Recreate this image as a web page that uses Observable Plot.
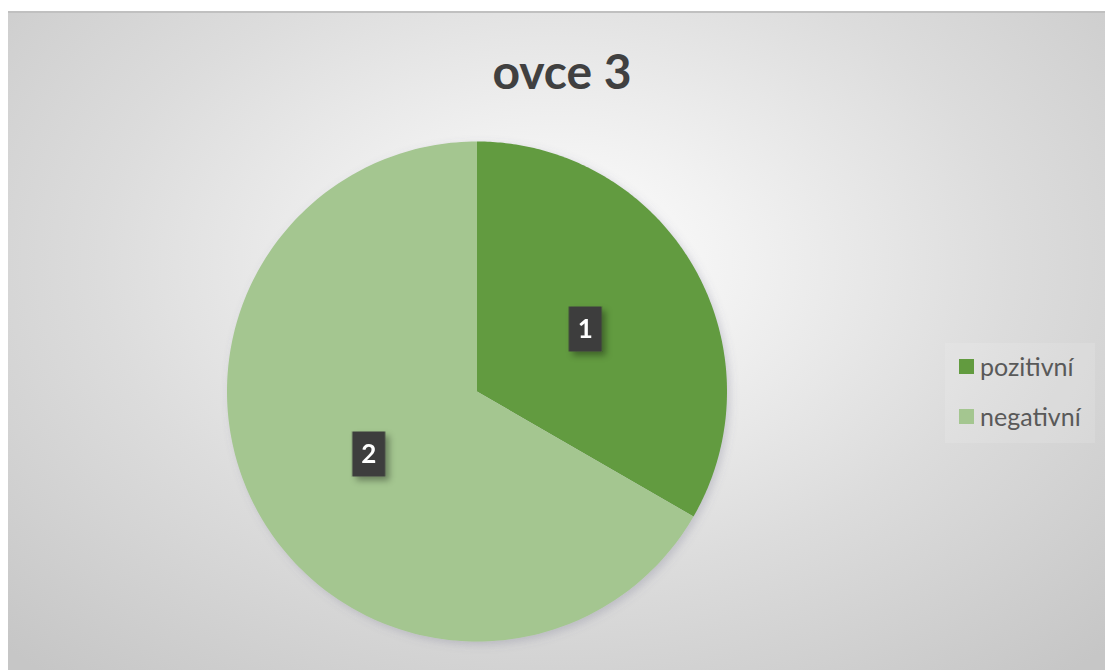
<!DOCTYPE html>
<html>
<head>
<meta charset="utf-8">
<script src="https://cdn.jsdelivr.net/npm/d3@7"></script>
<script src="https://cdn.jsdelivr.net/npm/@observablehq/plot@0.6"></script>
<style>
  html, body { margin: 0; padding: 0; background: #ffffff; width: 1105px; height: 670px; overflow: hidden; }
  #area {
    position: absolute; left: 8px; top: 11px; width: 1097px; height: 659px;
    background: radial-gradient(ellipse 72% 82% at 50% 38%, #ffffff 0%, #f2f2f2 22%, #dcdcdc 58%, #c6c6c6 100%);
    border-top: 2px solid #c0c0c0;
    box-sizing: border-box;
  }
  #chart { position: absolute; left: 0; top: -2px; }
  #legend {
    position: absolute; left: 937px; top: 330px; width: 150px; height: 100px;
    background: rgba(255,255,255,0.12);
    font-family: Lato, "Open Sans", sans-serif; font-size: 25px; color: #595959;
  }
  .item { position: absolute; left: 14px; display: flex; align-items: center; white-space: nowrap; }
  .sw { width: 15px; height: 15px; margin-right: 6px; }
</style>
</head>
<body>
<div id="area"><div id="chart"></div><div id="legend"></div></div>
<script>
const categories = ["pozitivní", "negativní"];
const values = [1, 2];
const colors = ["#629b3f", "#a4c690"];
const title = "ovce 3";

const W = 1097, H = 659;
const cx = 468.5, cy = 380, R = 250;

const arcs = d3.pie().sort(null).value(d => d)(values);
const slicePts = [];
arcs.forEach((a, i) => {
  slicePts.push({name: categories[i], x: 0, y: 0});
  const n = 200;
  for (let k = 0; k <= n; k++) {
    const t = a.startAngle + (a.endAngle - a.startAngle) * k / n;
    slicePts.push({name: categories[i], x: Math.sin(t), y: Math.cos(t)});
  }
});
const labels = arcs.map((a, i) => {
  const m = (a.startAngle + a.endAngle) / 2;
  return {name: categories[i], text: String(values[i]), x: 0.5 * Math.sin(m), y: 0.5 * Math.cos(m)};
});

const boxSymbol = { draw(ctx) { ctx.moveTo(-16.5, -22.5); ctx.lineTo(16.5, -22.5); ctx.lineTo(16.5, 22.5); ctx.lineTo(-16.5, 22.5); ctx.closePath(); } };

const chart = Plot.plot({
  width: W, height: H, margin: 0,
  style: { background: "transparent", overflow: "visible" },
  x: { domain: [-1, 1], range: [cx - R, cx + R], axis: null },
  y: { domain: [-1, 1], range: [cy + R, cy - R], axis: null },
  color: { domain: categories, range: colors },
  marks: [
    Plot.line(slicePts, { x: "x", y: "y", z: "name", fill: "name", stroke: "none", curve: "linear-closed" }),
    Plot.dot(labels, { x: "x", y: "y", symbol: boxSymbol, fill: "#3d3d3d", stroke: "none", r: 10 }),
    Plot.text(labels, { x: "x", y: "y", text: "text", fill: "#ffffff", fontSize: 26, fontWeight: "bold", fontFamily: "Lato, sans-serif", dy: 1 }),
    Plot.text([title], { frameAnchor: "top", dx: 5, dy: 62, text: d => d, fontSize: 48, fontWeight: "bold", fill: "#404040", fontFamily: "Lato, sans-serif", lineAnchor: "middle" })
  ]
});
document.getElementById("chart").appendChild(chart);

// shadows
const svg = d3.select(chart);
const defs = svg.insert("defs", ":first-child");
const f = defs.append("filter").attr("id", "sh").attr("x", "-50%").attr("y", "-50%").attr("width", "200%").attr("height", "200%");
f.append("feDropShadow").attr("dx", 4).attr("dy", 4).attr("stdDeviation", 3).attr("flood-color", "#000").attr("flood-opacity", 0.35);
const f2 = defs.append("filter").attr("id", "sh2").attr("x", "-20%").attr("y", "-20%").attr("width", "140%").attr("height", "140%");
f2.append("feDropShadow").attr("dx", 3).attr("dy", 3).attr("stdDeviation", 4).attr("flood-color", "#606080").attr("flood-opacity", 0.25);
svg.selectAll("g[aria-label='line']").attr("filter", "url(#sh2)");
svg.selectAll("g[aria-label='dot']").attr("filter", "url(#sh)");

// legend
const lg = d3.select("#legend");
categories.forEach((c, i) => {
  const it = lg.append("div").attr("class", "item").style("top", (8 + i * 50) + "px");
  it.append("div").attr("class", "sw").style("background", colors[i]);
  it.append("span").text(c);
});
</script>
</body>
</html>
